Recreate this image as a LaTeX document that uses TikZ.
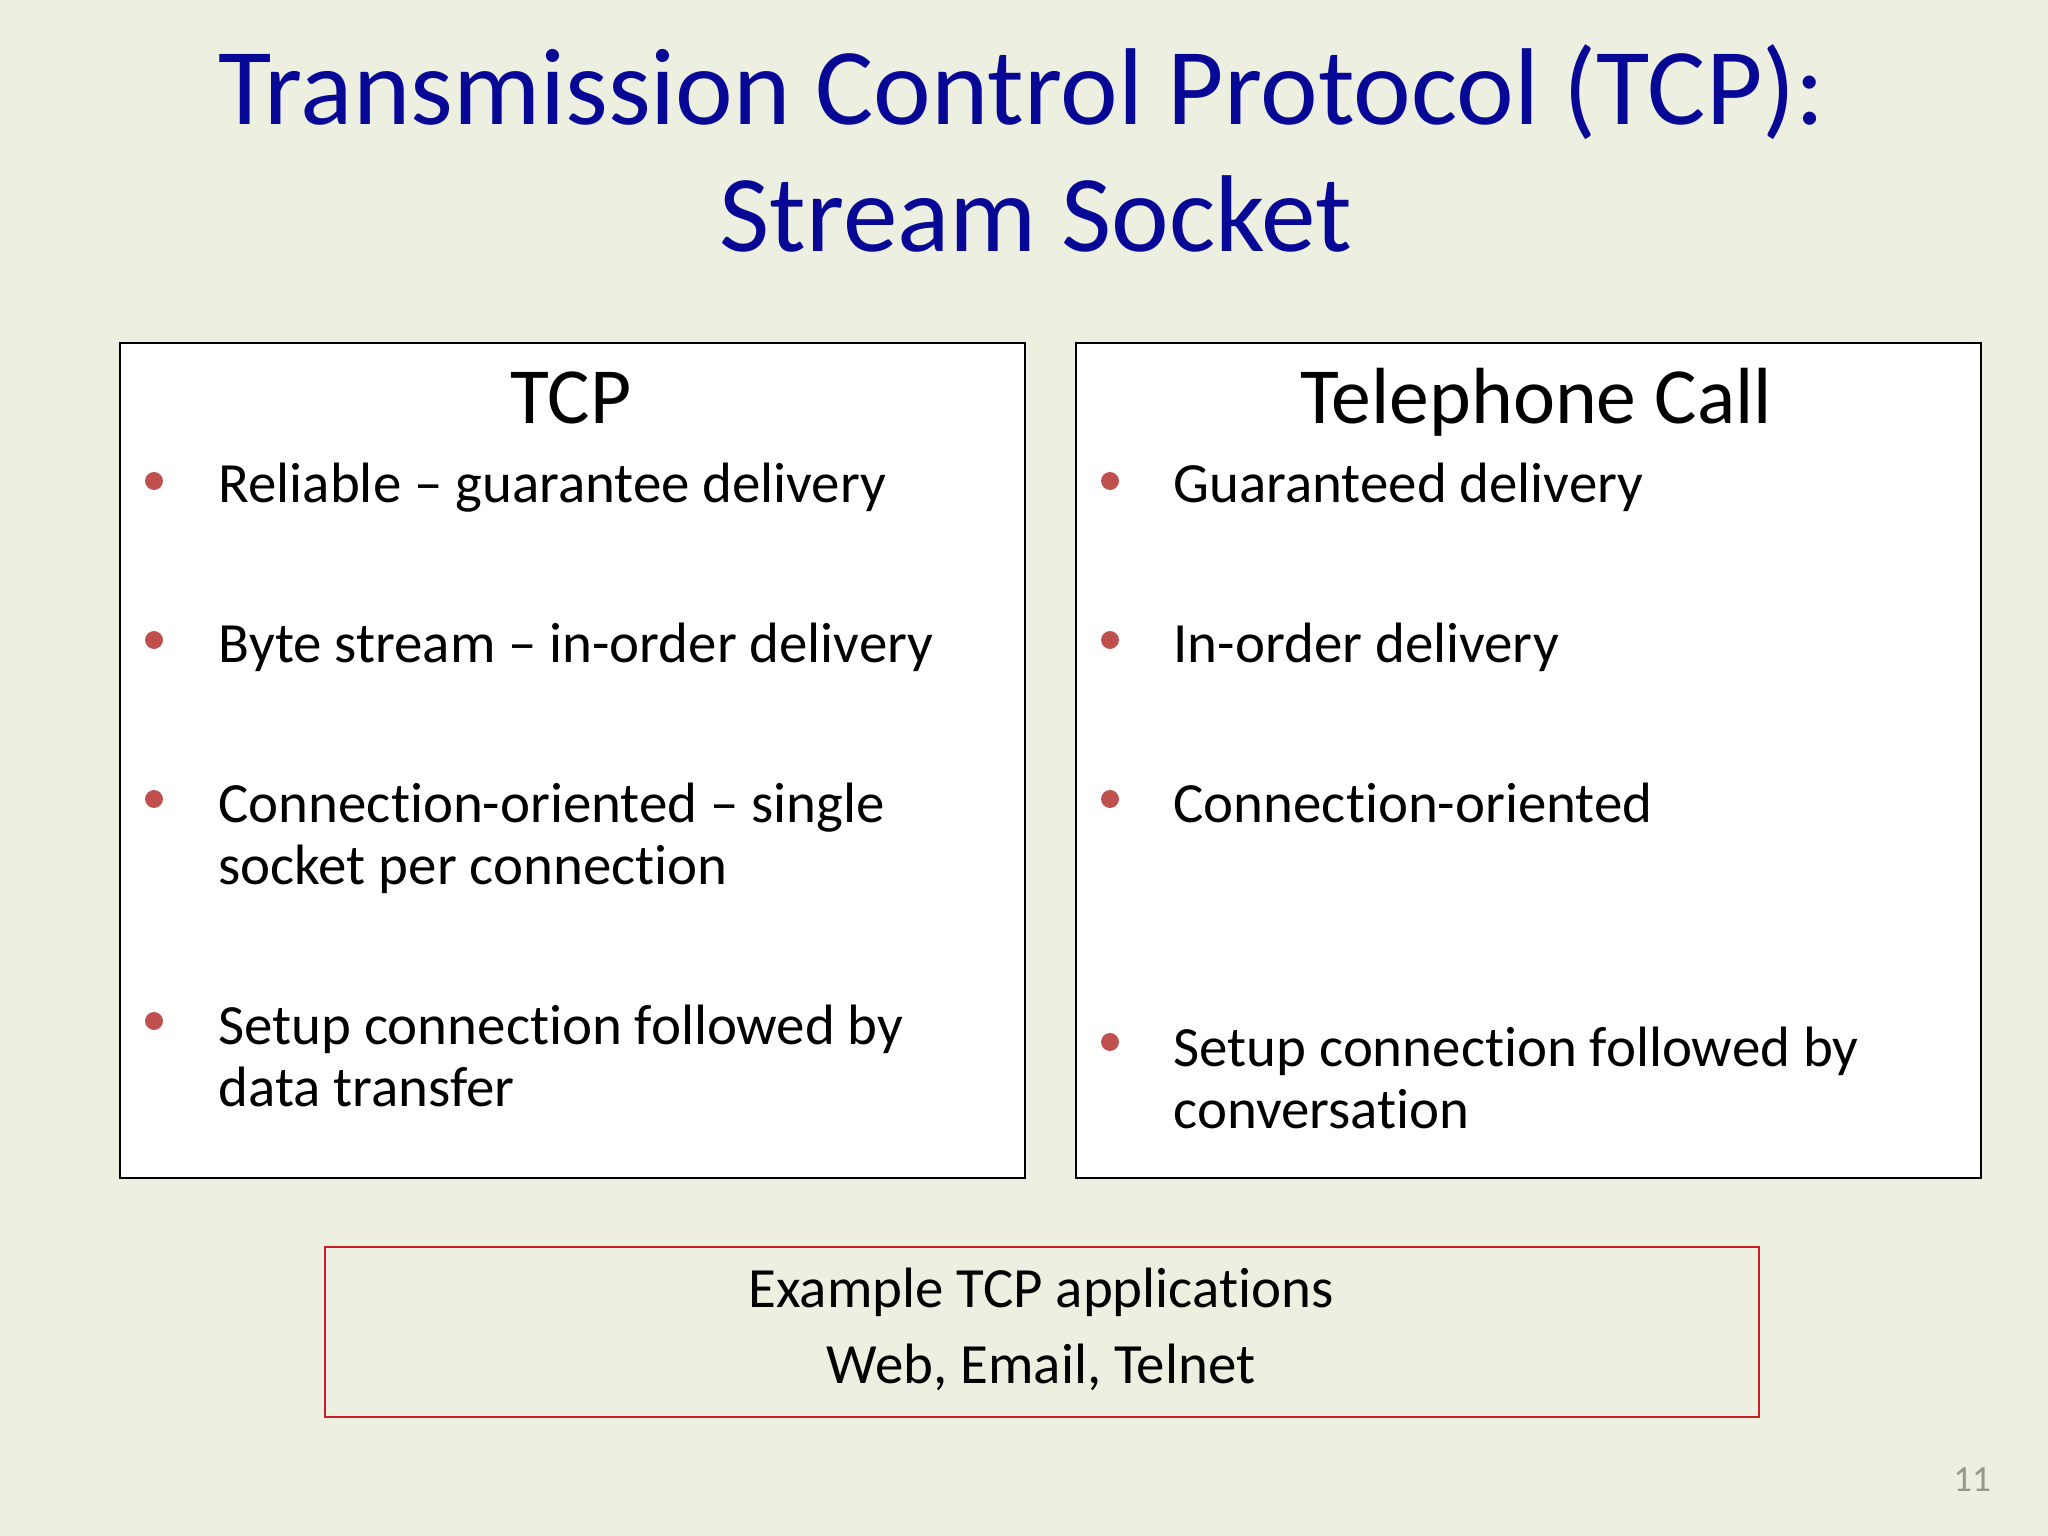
\documentclass[tikz,border=0pt]{standalone}
\usepackage{fontspec}
\setmainfont[Ligatures={NoCommon}]{Carlito}
\definecolor{slidebg}{RGB}{237,239,225}
\definecolor{titleblue}{RGB}{8,8,150}
\definecolor{bulletred}{RGB}{192,80,77}
\definecolor{framered}{RGB}{205,30,40}
\definecolor{pagegray}{RGB}{150,152,140}
\tikzset{
  panel/.style={draw=black, line width=0.75pt, fill=white, anchor=north west, inner sep=0pt},
  examplebox/.style={draw=framered, line width=0.75pt, anchor=north west, inner sep=0pt},
  bulletdot/.style={circle, fill=bulletred, inner sep=0pt, minimum size=6.3pt},
  heading/.style={anchor=base, inner sep=0pt, font=\fontsize{28}{30}\selectfont},
  item/.style={anchor=base west, inner sep=0pt},
  titletext/.style={anchor=base, inner sep=0pt, text=titleblue, font=\fontsize{38.4}{42}\selectfont},
  bodytext/.style={anchor=base, inner sep=0pt, font=\fontsize{20}{22}\selectfont}
}
\newcommand{\itemtext}[1]{\parbox[t]{300pt}{\raggedright\fontsize{20}{22}\selectfont #1}}
\begin{document}
\begin{tikzpicture}[x=0.3515625pt, y=-0.3515625pt]
\useasboundingbox (0,0) rectangle (2048,1536);
\fill[slidebg] (0,0) rectangle (2048,1536);
% title
\node[titletext] (title1) at (1022,125) {Transmission Control Protocol (TCP):};
\node[titletext] (title2) at (1036,252) {Stream Socket};
% panels
\node[panel, minimum width=905*0.3515625pt, minimum height=835*0.3515625pt] (tcpbox) at (119,342) {};
\node[panel, minimum width=905*0.3515625pt, minimum height=835*0.3515625pt] (telbox) at (1075,342) {};
\node[heading] (tcphead) at (571,424) {TCP};
\node[heading] (telhead) at (1536,424) {Telephone Call};
% TCP items
\node[bulletdot] (lb1) at (154,481) {};
\node[item] (lt1) at (218,503) {\itemtext{Reliable – guarantee delivery}};
\node[bulletdot] (lb2) at (154,640) {};
\node[item] (lt2) at (218,663) {\itemtext{Byte stream – in-order delivery}};
\node[bulletdot] (lb3) at (154,799) {};
\node[item] (lt3) at (218,822) {\itemtext{Connection-oriented – single\\socket per connection}};
\node[bulletdot] (lb4) at (154,1021) {};
\node[item] (lt4) at (218,1044) {\itemtext{Setup connection followed by\\data transfer}};
% Telephone items
\node[bulletdot] (rb1) at (1110,481) {};
\node[item] (rt1) at (1173,503) {\itemtext{Guaranteed delivery}};
\node[bulletdot] (rb2) at (1110,640) {};
\node[item] (rt2) at (1173,663) {\itemtext{In-order delivery}};
\node[bulletdot] (rb3) at (1110,799) {};
\node[item] (rt3) at (1173,822) {\itemtext{Connection-oriented}};
\node[bulletdot] (rb4) at (1110,1042) {};
\node[item] (rt4) at (1173,1066) {\itemtext{Setup connection followed by\\conversation}};
% example box
\node[examplebox, minimum width=1434*0.3515625pt, minimum height=170*0.3515625pt] (exbox) at (324,1246) {};
\node[bodytext] (ex1) at (1041,1307) {Example TCP applications};
\node[bodytext] (ex2) at (1041,1383) {Web, Email, Telnet};
% page number
\node[anchor=base, inner sep=0pt, text=pagegray, font=\fontsize{13}{14}\selectfont] (pagenum) at (1972,1491) {11};
\end{tikzpicture}
\end{document}
